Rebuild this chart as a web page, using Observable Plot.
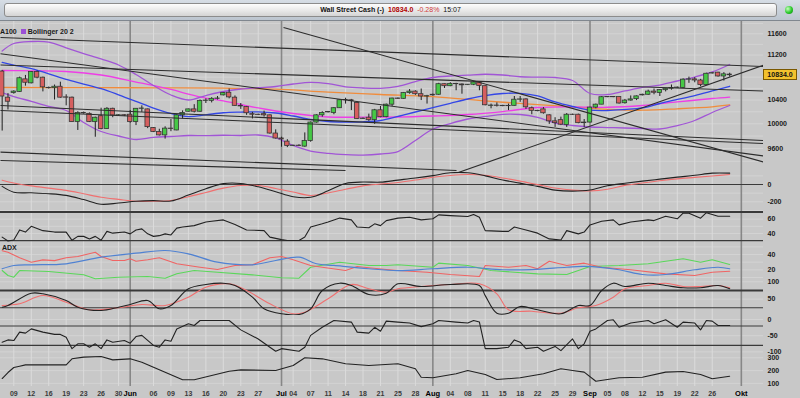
<!DOCTYPE html>
<html>
<head>
<meta charset="utf-8">
<script src="https://cdn.jsdelivr.net/npm/d3@7"></script>
<script src="https://cdn.jsdelivr.net/npm/@observablehq/plot@0.6"></script>
<style>
html,body{margin:0;padding:0;width:800px;height:398px;overflow:hidden;background:#c8c8c8;}
#wrap{position:relative;width:800px;height:398px;overflow:hidden;font-family:"Liberation Sans",Arial,sans-serif;background:#c8c8c8;}
#top{position:absolute;left:0;top:0;width:800px;height:21px;background:linear-gradient(#d6dde5,#bcc5cf);border-bottom:1px solid #80878f;box-sizing:border-box;}
#bar{position:absolute;left:4px;top:3px;width:773px;height:14px;border:1px solid #8c8c8c;border-radius:3px;background:linear-gradient(#fdfdfd,#e8e8e8 55%,#d4d4d4);box-sizing:border-box;text-align:center;font-size:7px;font-weight:bold;line-height:12px;color:#111;white-space:pre;}
#dot{position:absolute;left:785px;top:6px;width:8px;height:8px;border-radius:50%;background:radial-gradient(circle at 35% 35%,#c8ffc0,#28c828 55%,#128012);}
#legend{position:absolute;left:0;top:27px;font-size:7px;font-weight:bold;color:#1a1a1a;white-space:pre;line-height:9px;}
#legend .sw{display:inline-block;width:5px;height:5px;background:#9a4fd6;margin:0 2px 0 4px;vertical-align:0px;}
#adxlab{position:absolute;left:2px;top:244px;font-size:7px;font-weight:bold;color:#1a1a1a;}
#pbox{position:absolute;left:763px;width:34px;height:11px;background:#f2c12e;border:1px solid #7a5800;box-sizing:border-box;font-size:7px;font-weight:bold;line-height:9px;text-align:center;color:#111;}
</style>
</head>
<body>
<div id="wrap">
  <div id="top"><div id="bar"><span>Wall Street Cash (-)</span>  <span style="color:#b00000">10834.0</span>  <span style="color:#d03a3a;font-weight:normal">-0.28%</span>  <span style="font-weight:normal">15:07</span></div><div id="dot"></div></div>
</div>
<script>
// ---------------- DATA ----------------
const firstBar = -2; // bar index of first candle (May 6); May 9 = 0, 6 bars per week (Sun-Fri)
const opens = [10900,10440,10520,10540,10760,10690,10890,10790,10610,10605,
10630,10445,10440,10030,10175,10165,10030,10125,9915,10250,
10138,10142,10150,10028,10250,10240,9930,9865,9810,9920,
9890,10140,10200,10240,10200,10385,10385,10420,10480,10525,
10440,10300,10280,10160,10150,10160,10140,9840,9760,9710,
9640,9645,9630,9720,10020,10140,10190,10180,10260,10395,
10395,10350,10080,10100,10060,10225,10110,10320,10425,10420,
10520,10545,10500,10460,10480,10490,10675,10640,10680,10670,
10660,10665,10705,10640,10300,10305,10300,10295,10300,10405,
10410,10260,10215,10240,10140,10040,10060,9980,10150,10150,
10010,10020,10270,10320,10448,10452,10450,10345,10390,10415,
10480,10490,10545,10520,10570,10595,10610,10610,10755,10760,
10740,10662,10865,10880,10812,10845];
const highs = [10920,10510,10560,10800,10830,10900,10910,10800,10625,10660,
10710,10490,10450,10200,10195,10180,10110,10260,10270,10260,
10150,10150,10220,10255,10300,10245,9935,9910,9950,10070,
10150,10215,10245,10320,10400,10420,10440,10460,10530,10590,
10470,10340,10290,10190,10160,10210,10145,9900,9780,9740,
9650,9660,9850,10030,10150,10200,10205,10270,10400,10430,
10410,10360,10095,10160,10240,10290,10330,10430,10435,10530,
10580,10560,10590,10480,10500,10690,10680,10700,10690,10680,
10670,10720,10715,10645,10330,10350,10310,10330,10460,10460,
10420,10280,10225,10270,10150,10100,10110,10170,10160,10160,
10070,10280,10330,10460,10460,10460,10455,10410,10470,10470,
10500,10570,10590,10580,10600,10660,10625,10770,10800,10790,
10760,10870,10880,10885,10880,10870];
const lows = [9880,10230,10500,10530,10640,10680,10770,10540,10590,10400,
10430,10300,10028,9890,10160,10020,9780,9900,9910,10100,
10125,10120,10010,9970,10190,9920,9855,9800,9750,9870,
9885,10080,10195,10180,10190,10340,10350,10400,10470,10420,
10290,10240,10140,10080,10135,10110,9830,9750,9620,9614,
9630,9630,9620,9700,10010,10110,10180,10150,10255,10330,
10220,10070,10070,10040,9990,10100,10100,10290,10410,10410,
10500,10480,10390,10330,10470,10480,10600,10630,10560,10500,
10650,10650,10560,10300,10250,10280,10285,10220,10295,10360,
10240,10150,10200,10160,9990,9940,9970,9940,10140,10000,
9940,10015,10250,10320,10440,10440,10330,10330,10380,10390,
10470,10480,10490,10460,10540,10570,10600,10600,10690,10700,
10630,10660,10855,10800,10730,10800];
const closes = [10460,10370,10545,10780,10700,10890,10790,10620,10605,10630,
10440,10440,10028,10180,10180,10030,10100,9915,10250,10138,
10142,10135,10028,10250,10255,9945,9865,9810,9920,9915,
10140,10180,10240,10200,10385,10390,10420,10425,10520,10445,
10300,10290,10175,10150,10145,10140,9840,9760,9745,9640,
9645,9640,9720,10020,10140,10180,10195,10260,10396,10400,
10380,10080,10085,10060,10225,10110,10320,10425,10420,10520,
10545,10500,10460,10466,10490,10675,10640,10680,10675,10655,
10665,10705,10645,10310,10305,10300,10295,10300,10405,10410,
10275,10215,10210,10175,10040,10010,9985,10150,10148,10010,
10020,10270,10320,10448,10452,10448,10340,10390,10410,10462,
10490,10545,10525,10572,10595,10607,10615,10755,10760,10740,
10662,10860,10870,10812,10850,10834];
const lastPrice = 10834.0;

// Indicators on the price panel (bar index samples)
const bbIdx = [-2,0,3,6,9,12,15,18,21,24,27,30,33,36,39,42,45,48,51,54,57,60,63,66,69,72,75,78,81,84,87,90,93,96,99,102,105,108,111,114,117,120,123];
const ma20 = [11064,11018,10951,10860,10758,10678,10596,10490,10377,10262,10171,10118,10149,10183,10194,10199,10179,10129,10071,10037,10029,10032,10054,10121,10196,10269,10343,10417,10477,10512,10515,10469,10366,10289,10228,10221,10238,10264,10340,10409,10477,10556,10638];
const bbUpper = [11276,11416,11454,11444,11335,11229,11128,11018,10847,10652,10486,10400,10477,10547,10590,10613,10634,10678,10708,10684,10628,10608,10603,10638,10722,10793,10820,10836,10851,10838,10807,10800,10793,10740,10512,10495,10556,10617,10660,10731,10802,10892,11027];
const bbLower = [10529,10460,10377,10292,10221,10021,9873,9800,9744,9779,9792,9808,9805,9812,9808,9816,9768,9648,9560,9524,9505,9497,9513,9552,9728,9914,10004,10079,10121,10157,10154,10104,10012,9971,9947,9938,9930,9922,9914,9971,10054,10188,10306];
const ma50Idx = [-2,3,9,15,21,27,30,33,36,39,42,45,48,51,54,60,66,72,78,84,90,96,102,108,114,120,123];
const ma50 = [10919,10912,10901,10838,10713,10582,10503,10434,10383,10323,10264,10213,10171,10137,10112,10109,10112,10129,10154,10204,10272,10284,10276,10306,10366,10426,10451];
const ma100Idx = [-2,12,24,36,45,54,63,72,81,90,96,102,108,114,120,123];
const ma100 = [10617,10615,10610,10604,10587,10535,10495,10457,10384,10320,10281,10240,10226,10250,10284,10315];

// Hand-drawn trend lines: [bar1, price1, bar2, price2]
const trendLines = [
  [-2.285,11530,128.81,10991],
  [-2.285,11018,128.81,10556],
  [46.34,11722,128.81,9388],
  [-2.285,11224,128.81,9482],
  [-2.285,10306,128.81,9728],
  [-2.285,10221,128.81,9680],
  [75.89,9212,128.81,11016],
  [-2.285,9542,76.07,9258],
  [-2.285,9412,56.99,9258]
];

// MACD
const macdLine = [-22,-89,-96,-106,-126,-174,-228,-214,-193,-186,-191,-122,-49,10,12,-27,-84,-141,-147,-73,12,29,27,51,75,103,135,135,100,52,16,-22,-65,-77,-64,-14,14,39,62,85,106,131,131];
const macdSignal = [50,18,-16,-42,-68,-107,-148,-172,-193,-193,-184,-141,-92,-42,-12,-12,-46,-87,-127,-98,-55,-16,5,23,52,83,104,115,106,75,39,-1,-40,-65,-74,-55,-10,17,43,65,82,99,115];

// RSI [bar, value]
const rsi = [[-2,35],[-1,29.5],[0,31],[1,45],[2,42],[3,50],[5,44],[7,42],[9,42],[10,30.5],[11,36],[12,36],[13,32.5],[14,36],[15,30.5],[16,43],[17,40.5],[19,42],[20,39.5],[21,45],[22,46.5],[23,39.5],[24,36],[25,37],[26,39.5],[27,38],[28,47.5],[29,49],[31,51],[33,56],[34,57],[36,59],[38,52.5],[40,45],[43,44],[44,35],[46,31.5],[47,30.3],[49,30.3],[50,35],[51,49],[53,53.5],[54,56],[56,61.5],[58,59],[59,49],[61,48],[62,53.5],[63,51],[64,58],[66,61.5],[68,62.7],[70,59],[72,60.5],[73,66],[75,65],[78,63.7],[79,66.5],[80,62.7],[81,44],[84,43],[85,43],[86,49],[88,45],[90,40.5],[92,32.5],[94,31],[95,44],[97,39.5],[98,42],[99,52],[101,57],[103,59],[104,52],[106,56],[109,59],[110,58],[112,64],[114,60.5],[115,68.3],[116,68.3],[118,61.4],[119,69],[121,64],[123,64]];

// ADX / +DI / -DI
const adx = [[-2,21.4],[0,25.7],[3,26.6],[9,27.9],[15,36.5],[21,41.7],[26,45.2],[30,40.9],[35,30],[41,26.6],[45,32.2],[49,36.5],[52,27.9],[55,25.7],[61,21.4],[66,19.1],[72,21.4],[78,23.4],[84,20.1],[89,20.4],[95,23.4],[98,24.4],[104,20.1],[108,13.9],[112,13.9],[117,20.1],[121,23.4],[123,21.4]];
const diMinus = [[-2,45],[-1,43],[1,35.7],[3,30],[5,33],[7,32],[9,35.7],[11,37.4],[14,43],[15,37.4],[17,32.2],[19,32.2],[20,34.4],[21,31.3],[23,33.1],[25,35.7],[26,33.1],[28,27.9],[30,25.7],[32,23.4],[35,20.4],[38,25.7],[41,26.6],[44,35.7],[46,37.4],[48,33.1],[51,25.7],[53,23.4],[57,19.1],[59,24.4],[61,22.7],[64,20.4],[66,19.1],[71,16.9],[75,13.9],[80,11.3],[81,25.7],[85,23.4],[88,25.7],[90,21.4],[92,31.3],[95,25.7],[98,28.7],[101,23.4],[106,20.1],[112,14.8],[117,12.6],[120,16.9],[123,18.2]];
const diPlus = [[-2,19.1],[-1,12.6],[0,10.4],[1,19.1],[6,17.8],[12,13.5],[14,8.3],[18,10.4],[23,11.3],[26,9.1],[28,14.8],[31,19.1],[35,16.9],[41,13.5],[46,9.6],[49,9.1],[51,23.4],[56,30],[61,25.7],[64,25.7],[66,26.6],[72,23.4],[73,28.7],[78,25.7],[82,19.1],[86,16.9],[90,14.8],[95,13.9],[99,24.4],[104,25.7],[109,27.9],[115,34.4],[118,30],[120,33.1],[123,27]];

// Stochastic %K / %D
const stochK = [[-2,26.6],[-1,31.5],[3,67],[5,65.3],[9,46],[11,26.6],[15,17],[18,26.6],[20,34.4],[23,46],[25,22],[27,31.5],[30,79.8],[33,92.2],[36,96],[38,89.3],[41,55.5],[43,22],[46,7.5],[49,5.5],[51,22],[53,74.9],[56,96],[58,89.3],[61,63.3],[64,67],[66,94.2],[70,86.4],[75,92.2],[80,89.3],[81,60],[83,9.2],[85,9.2],[87,28.6],[90,19.1],[94,7.5],[97,31.5],[99,31.5],[101,74.9],[103,96],[105,86.4],[109,96],[112,89.3],[115,82.7],[118,82.7],[121,89.3],[123,79.8]];
const stochD = [[-2,31.5],[1,36.4],[5,60.4],[9,41],[13,19.1],[18,24.9],[22,34.4],[26,31.5],[30,55.5],[33,84.4],[37,94.2],[40,74.9],[44,36.4],[48,7.5],[50,12.1],[54,50.9],[58,92.2],[61,79.8],[64,70],[66,79.8],[70,86.4],[75,92.2],[80,94.2],[83,65.3],[85,19.1],[89,15],[94,9.2],[97,24.9],[100,31.5],[103,55.5],[105,79.8],[109,89.3],[112,96],[115,86.4],[118,86.4],[121,89.3],[123,82.7]];

// Williams %R
const willR = [[-2,-70],[-1,-63],[0,-65],[1,-39],[2,-42],[3,-29],[5,-39],[7,-46],[8,-46],[9,-55],[10,-90],[11,-75],[12,-75],[13,-85.5],[14,-75],[15,-90],[16,-63],[17,-70],[19,-65],[20,-73],[21,-52.5],[22,-49],[24,-80],[25,-85.5],[26,-63],[27,-67],[28,-29],[30,-13],[31,-18.5],[32,-3],[37,-3],[39,-32],[42,-60],[44,-85.5],[45,-98],[46,-90],[49,-98],[50,-85.5],[51,-49],[53,-24],[55,-3],[58,-8],[59,-39],[61,-42],[62,-24],[63,-36],[64,-5],[66,-8],[68,-11],[70,-22],[72,-13],[73,-3],[76,-8],[78,-11],[79,-3],[80,-8],[81,-90],[83,-90],[85,-85.5],[86,-63],[87,-70],[88,-90],[90,-85.5],[91,-98],[93,-83],[94,-96],[96,-60],[97,-90],[98,-75],[99,-36],[100,-29],[102,-3],[103,-1],[104,-24],[106,-11],[109,-3],[110,-13],[112,-1],[114,-24],[115,-8],[117,-11],[118,-32],[119,-3],[120,-5],[121,-18.5],[123,-18.5]];

// Bottom indicator
const lowerInd = [[-2,138],[-1,185],[0,224],[1,234],[2,245],[6,245],[9,245],[10,292],[12,305],[15,310],[17,284],[20,292],[22,266],[24,227],[26,188],[29,128],[31,128],[34,162],[37,195],[39,206],[45,201],[48,240],[50,300],[53,292],[57,253],[61,240],[66,253],[69,214],[70,148],[72,144],[76,175],[78,201],[81,170],[83,130],[87,144],[91,175],[94,214],[96,201],[98,188],[100,117],[104,144],[108,148],[112,188],[115,193],[118,170],[120,136],[123,156]];

// Axis ticks & labels (10800 sits under the price box, so it is not labelled)
const priceTicks = [9600,10000,10400,11200,11600];
const priceGrid = [9400,9600,9800,10000,10200,10400,10600,10800,11000,11200,11400,11600,11800];
const macdTicks = [0,-200];
const rsiTicks = [60,40];
const adxTicks = [40,20];
const stochTicks = [100,50];
const willTicks = [0,-50,-100];
const willLevels = [-20,-80];
const lowerTicks = [300,200,100];
const dayLabels = [[0,"09"],[3,"12"],[6,"16"],[9,"19"],[12,"23"],[15,"26"],[18,"30"],[24,"06"],[27,"09"],[30,"13"],[33,"16"],[36,"20"],[39,"23"],[42,"27"],[48,"04"],[51,"07"],[54,"11"],[57,"14"],[60,"18"],[63,"21"],[66,"25"],[69,"28"],[75,"04"],[78,"08"],[81,"11"],[84,"15"],[87,"18"],[90,"22"],[93,"25"],[96,"29"],[102,"05"],[105,"08"],[108,"12"],[111,"15"],[114,"19"],[117,"22"],[120,"26"]];
const monthLabels = [[20,"Jun"],[46,"Jul"],[72,"Aug"],[99,"Sep"],[125,"Okt"]];

// ---------------- DRAW ----------------
const wrap = document.getElementById("wrap");
const bars = opens.map((o, k) => ({i: firstBar + k, o, h: highs[k], l: lows[k], c: closes[k]}));
const pairs = (idx, vals) => idx.map((i, k) => [i, vals[k]]);
const gridIdx = dayLabels.map(d => d[0]);
const monthIdx = monthLabels.map(d => d[0]);
const X = {domain: [-2.285, 128.81], axis: null};
const FONT = "'Liberation Sans', Arial, sans-serif";

function addPanel(top, height, yopts, marks) {
  const svg = Plot.plot({
    width: 800, height, marginLeft: 0, marginRight: 37, marginTop: 0, marginBottom: 0,
    x: X, y: yopts,
    style: {background: "transparent", overflow: "visible", fontFamily: FONT, fontSize: "7px"},
    marks
  });
  svg.style.position = "absolute"; svg.style.left = "0px"; svg.style.top = top + "px";
  wrap.appendChild(svg);
  return svg;
}
const vgrid = () => [
  Plot.ruleX(gridIdx, {x: d => d, stroke: "#dbdbdb", strokeWidth: 1}),
  Plot.ruleX(monthIdx, {x: d => d, stroke: "#878787", strokeWidth: 1.6})
];
const hgrid = (vals) => Plot.ruleY(vals, {y: d => d, stroke: "#d3d3d3", strokeWidth: 1});
const yAxis = (ticks) => Plot.axisY({anchor: "right", ticks, tickSize: 0, tickPadding: 4, tickFormat: d => String(d), fontWeight: "bold", fill: "#1a1a1a", label: null});
const levels = (vals, w) => Plot.ruleY(vals, {y: d => d, stroke: "#3a3a3a", strokeWidth: w || 1.2});
const ln = (data, stroke, w, curve) => Plot.line(data, {x: d => d[0], y: d => d[1], stroke, strokeWidth: w || 1.1, curve: curve || "linear", clip: true});

// Price panel (log scale)
const priceSvg = addPanel(21, 151, {type: "log", domain: [9227.2, 11838.2]}, [
  hgrid(priceGrid),
  ...vgrid(),
  ln(pairs(ma100Idx, ma100), "#f08c3c", 1.3, "catmull-rom"),
  ln(pairs(ma50Idx, ma50), "#ee3ee6", 1.3, "catmull-rom"),
  ln(pairs(bbIdx, ma20), "#3346e6", 1.3, "catmull-rom"),
  ln(pairs(bbIdx, bbUpper), "#a155d6", 1.3, "catmull-rom"),
  ln(pairs(bbIdx, bbLower), "#a155d6", 1.3, "catmull-rom"),
  Plot.ruleX(bars, {x: "i", y1: "l", y2: "h", stroke: "#1e1e1e", strokeWidth: 1}),
  Plot.rect(bars, {x1: d => d.i - 0.38, x2: d => d.i + 0.38, y1: "o", y2: "c",
    fill: d => d.c >= d.o ? "#46c846" : "#d65f5f", stroke: "#363636", strokeWidth: 0.8}),
  Plot.link(trendLines, {x1: d => d[0], y1: d => d[1], x2: d => d[2], y2: d => d[3], stroke: "#2c2c2c", strokeWidth: 1.1, clip: true}),
  yAxis(priceTicks)
]);

// MACD
addPanel(172, 39, {domain: [-311.8, 138.6]}, [
  hgrid([100, -100, -200, -300]), ...vgrid(), levels([0]),
  ln(pairs(bbIdx, macdSignal), "#f07070", 1.1, "catmull-rom"),
  ln(pairs(bbIdx, macdLine), "#222", 1.1, "catmull-rom"),
  yAxis(macdTicks)
]);
// RSI
addPanel(211, 31, {domain: [27.46, 70.70]}, [
  hgrid([60, 50, 40]), ...vgrid(), levels([70], 2), levels([30]),
  ln(rsi, "#222", 1.1), yAxis(rsiTicks)
]);
// ADX
addPanel(242, 39, {domain: [4.8, 55.65]}, [
  hgrid([50, 40, 30, 20, 10]), ...vgrid(),
  ln(diPlus, "#5ad75a", 1.1), ln(diMinus, "#f06464", 1.1), ln(adx, "#5082d2", 1.2, "catmull-rom"),
  yAxis(adxTicks)
]);
// Stochastic
addPanel(281, 34, {domain: [2.6, 100.87]}, [
  hgrid([100, 50]), ...vgrid(), levels([75], 2), levels([25]),
  ln(stochD, "#f07070", 1.1, "catmull-rom"), ln(stochK, "#222", 1.1, "catmull-rom"),
  yAxis(stochTicks)
]);
// Williams %R
addPanel(315, 39, {domain: [-108.0, 12.35]}, [
  hgrid([0, -50, -100]), ...vgrid(), levels(willLevels),
  ln(willR, "#222", 1.1), yAxis(willTicks)
]);
// Bottom indicator
addPanel(354, 32, {domain: [75.8, 325.8]}, [
  hgrid([300, 200, 100]), ...vgrid(),
  ln(lowerInd, "#222", 1.1), yAxis(lowerTicks)
]);
// Date labels
addPanel(386, 12, undefined, [
  Plot.text(dayLabels, {x: d => d[0], text: d => d[1], frameAnchor: "middle", dy: 1.5, fontWeight: "bold", fill: "#3a3a3a"}),
  Plot.text(monthLabels, {x: d => d[0], text: d => d[1], frameAnchor: "middle", dy: 1.5, fontWeight: "bold", fill: "#000", fontSize: 7.5})
]);

// Legend, ADX label, price box
const legend = document.createElement("div");
legend.id = "legend";
legend.innerHTML = 'A100<span class="sw"></span>Bollinger 20 2';
wrap.appendChild(legend);
const adxLab = document.createElement("div");
adxLab.id = "adxlab"; adxLab.textContent = "ADX";
wrap.appendChild(adxLab);
const py = priceSvg.scale("y").apply(lastPrice);
const box = document.createElement("div");
box.id = "pbox"; box.textContent = lastPrice.toFixed(1);
box.style.top = (21 + py - 5.5) + "px";
wrap.appendChild(box);
</script>
</body>
</html>
